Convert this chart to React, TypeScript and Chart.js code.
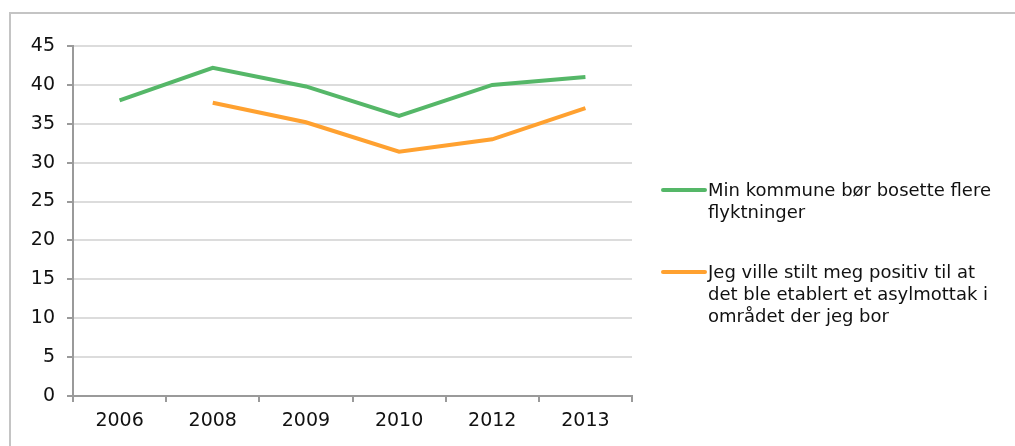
import React, { useEffect, useRef } from "react";
import { Chart, registerables } from "chart.js";

Chart.register(...registerables);

const categories = ["2006", "2008", "2009", "2010", "2012", "2013"];
const kommuneValues: (number | null)[] = [38.0, 42.2, 39.8, 36.0, 40.0, 41.0];
const asylValues: (number | null)[] = [null, 37.7, 35.2, 31.4, 33.0, 37.0];
const legendLines1 = ["Min kommune bør bosette flere", "flyktninger"];
const legendLines2 = ["Jeg ville stilt meg positiv til at", "det ble etablert et asylmottak i", "området der jeg bor"];
const seriesLegend = [legendLines1, legendLines2];
const yTicks = [0, 5, 10, 15, 20, 25, 30, 35, 40, 45];

const GREEN = "#55b768";
const ORANGE = "#ffa130";
const FONT = "'DejaVu Sans', Verdana, sans-serif";

const legendPlugin = {
  id: "wrappedLegend",
  afterDraw(chart: any) {
    const ctx = chart.ctx;
    const area = chart.chartArea;
    const lineX0 = area.right + 31;
    const lineX1 = lineX0 + 42;
    const textX = lineX1 + 3;
    const starts = [190, 272];
    const lh = 22;
    ctx.save();
    ctx.font = `18px ${FONT}`;
    ctx.textBaseline = "middle";
    ctx.textAlign = "left";
    chart.data.datasets.forEach((ds: any, i: number) => {
      const y0 = starts[i];
      ctx.strokeStyle = ds.borderColor;
      ctx.lineWidth = 4;
      ctx.lineCap = "round";
      ctx.beginPath();
      ctx.moveTo(lineX0, y0);
      ctx.lineTo(lineX1, y0);
      ctx.stroke();
      ctx.fillStyle = "#111";
      seriesLegend[i].forEach((t, j) => {
        ctx.fillText(t, textX, y0 + j * lh + 1);
      });
    });
    ctx.restore();
  },
};

export default function App() {
  const ref = useRef<HTMLCanvasElement | null>(null);
  useEffect(() => {
    if (!ref.current) return;
    const chart = new Chart(ref.current, {
      type: "line",
      data: {
        labels: categories,
        datasets: [
          {
            label: seriesLegend[0].join(" "),
            data: kommuneValues,
            borderColor: GREEN,
            backgroundColor: GREEN,
            borderWidth: 4,
            pointRadius: 0,
            tension: 0,
            spanGaps: false,
          },
          {
            label: seriesLegend[1].join(" "),
            data: asylValues,
            borderColor: ORANGE,
            backgroundColor: ORANGE,
            borderWidth: 4,
            pointRadius: 0,
            tension: 0,
            spanGaps: false,
          },
        ],
      },
      options: {
        animation: false,
        responsive: false,
        maintainAspectRatio: false,
        layout: { padding: { left: 0, top: 46, right: 383, bottom: 0 } },
        plugins: { legend: { display: false }, tooltip: { enabled: false } },
        scales: {
          x: {
            type: "category",
            offset: true,
            afterFit: (s: any) => { s.height = 50; },
            border: { display: true, color: "#9a9a9a", width: 2 },
            grid: {
              offset: true,
              drawOnChartArea: false,
              drawTicks: true,
              tickLength: 6,
              color: "#9a9a9a",
              lineWidth: 2,
            },
            ticks: {
              color: "#111",
              font: { family: FONT, size: 19 },
              padding: 8,
              maxRotation: 0,
            },
          },
          y: {
            min: 0,
            max: 45,
            afterFit: (s: any) => { s.width = 73; },
            afterBuildTicks: (s: any) => { s.ticks = yTicks.map((v) => ({ value: v })); },
            border: { display: true, color: "#9a9a9a", width: 2 },
            grid: {
              color: (c: any) => (c.tick && c.tick.value === 0 ? "#9a9a9a" : "#dcdcdc"),
              lineWidth: 2,
              drawTicks: true,
              tickLength: 6,
              tickColor: "#9a9a9a",
            },
            ticks: {
              color: "#111",
              font: { family: FONT, size: 19 },
              padding: 12,
            },
          },
        },
      },
      plugins: [legendPlugin],
    });
    return () => chart.destroy();
  }, []);
  return (
    <div style={{ position: "fixed", left: 0, top: 0, width: 1015, height: 446, background: "#fff", overflow: "hidden" }}>
      <div
        style={{
          position: "absolute",
          left: 9,
          top: 12,
          width: 1020,
          height: 450,
          borderTop: "2px solid #c4c4c4",
          borderLeft: "2px solid #c4c4c4",
          boxSizing: "border-box",
        }}
      />
      <canvas ref={ref} width={1015} height={446} style={{ position: "absolute", left: 0, top: 0 }} />
    </div>
  );
}
